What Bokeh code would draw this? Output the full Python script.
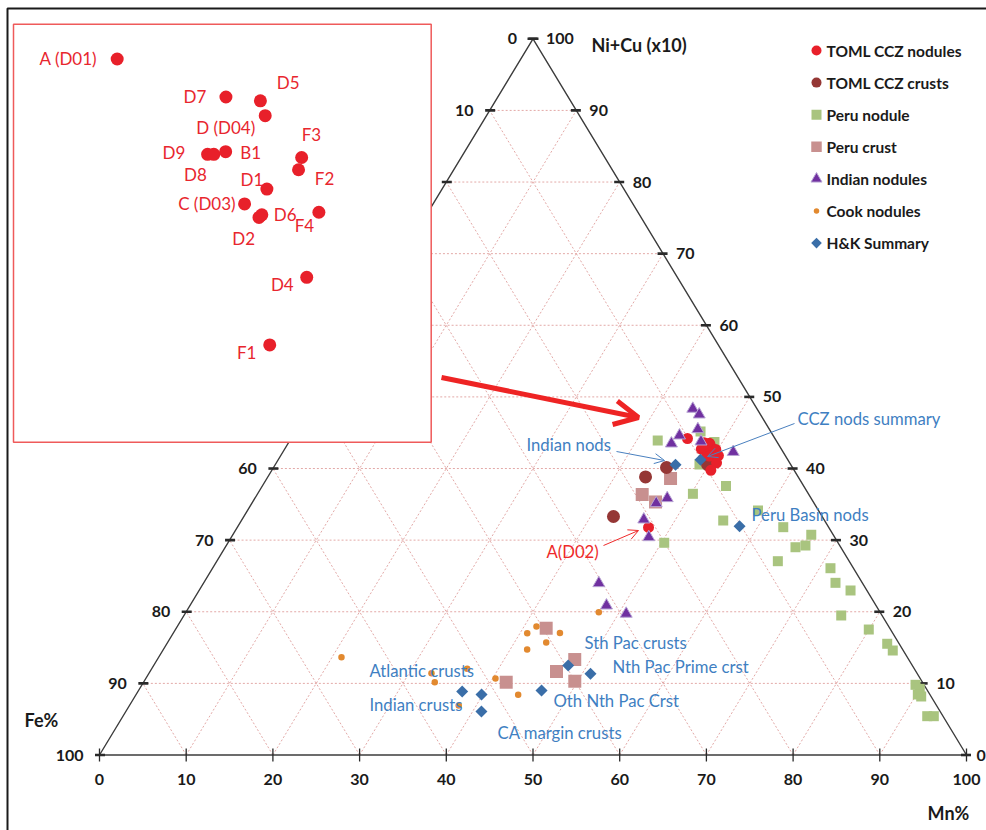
import numpy as np
from bokeh.plotting import figure
from bokeh.models import Range1d, Arrow, OpenHead, ColumnDataSource
from bokeh.core.properties import value
from bokeh.embed import file_html
from bokeh.resources import INLINE

# ---------------- data: Mn %, Ni+Cu (x10) ; Fe % = 100 - Mn - NiCu ----------------
toml_nod_labels = ["A (D01)", "D7", "D5", "D (D04)", "F3", "F2", "D9", "D8", "B1",
                   "D1", "C (D03)", "D6", "D2", "F4", "D4", "F1"]
toml_nod_mn = [45.72, 47.94, 48.58, 48.78, 49.75, 49.79, 48.06, 48.17, 48.36,
               49.38, 49.10, 49.49, 49.46, 50.48, 50.77, 50.64]
toml_nod_nicu = [44.19, 43.60, 43.54, 43.31, 42.66, 42.47, 42.71, 42.71, 42.75,
                 42.17, 41.94, 41.77, 41.73, 41.81, 40.80, 39.75]
toml_d02_mn = [47.44]
toml_d02_nicu = [31.77]

toml_crust_mn = [45.33, 43.57, 42.63, 49.85]
toml_crust_nicu = [40.14, 38.82, 33.30, 40.56]

peru_nod_mn = [42.43, 49.08, 46.74, 48.92, 53.48, 50.21, 55.57, 50.32, 58.88, 62.96,
               66.72, 65.77, 66.80, 64.71, 71.27, 72.87, 75.14, 75.81, 79.97, 83.09,
               84.20, 89.22, 89.99, 90.16, 90.69, 92.76, 93.52]
peru_nod_nicu = [43.91, 43.70, 45.17, 40.56, 37.56, 36.47, 32.74, 29.63, 34.14, 31.81,
                 30.75, 29.01, 29.25, 27.06, 26.08, 24.04, 22.97, 19.48, 17.52, 15.53,
                 14.59, 9.80, 9.24, 8.45, 8.17, 5.42, 5.42]

peru_crust_mn = [46.56, 44.41, 46.47, 42.67, 48.15, 46.88, 49.67, 41.83]
peru_crust_nicu = [38.61, 36.37, 35.33, 17.70, 13.33, 11.66, 10.30, 10.16]

indian_mn = [44.26, 45.40, 46.27, 44.59, 44.22, 47.49, 51.94, 47.55, 46.63, 46.34,
             48.15, 45.60, 48.04, 50.89]
indian_nicu = [48.34, 47.54, 45.49, 44.61, 43.49, 43.77, 42.31, 35.86, 35.16, 32.88,
               30.41, 23.99, 20.87, 19.72]

cook_mn = [47.62, 41.43, 40.83, 44.59, 43.67, 41.96, 40.33, 44.08, 21.08, 32.58,
           36.39, 33.59, 37.98]
cook_nicu = [19.94, 17.94, 17.01, 17.03, 15.71, 14.73, 10.68, 8.42, 13.66, 11.42,
             12.04, 10.16, 6.91]

hk_mn = [46.18, 48.71, 57.85, 47.81, 50.96, 46.48, 37.40, 39.84, 41.02]
hk_nicu = [40.52, 41.22, 31.95, 12.50, 11.34, 9.01, 8.87, 8.45, 6.07]

grid_levels = [10, 20, 30, 40, 50, 60, 70, 80, 90]
tick_levels = [0, 10, 20, 30, 40, 50, 60, 70, 80, 90, 100]

legend_names = ["TOML CCZ nodules", "TOML CCZ crusts", "Peru nodule", "Peru crust",
                "Indian nodules", "Cook nodules", "H&K Summary"]

annotation_texts = ["CCZ nods summary", "Indian nods", "Peru Basin nods", "Sth Pac crusts",
                    "Nth Pac Prime crst", "Atlantic crusts", "Oth Nth Pac Crst",
                    "Indian crusts", "CA margin crusts"]

# ---------------- layout helpers (pixel -> data) ----------------
W, H = 986, 830
def dx(px):
    return (px - 99) / 8.67
def dy(py):
    return (754.5 - py) / 7.162

def cart(mn, nicu):
    mn = np.asarray(mn, float); n = np.asarray(nicu, float)
    return mn + n / 2.0, n

FONT = value("Lato")
RED = "#E8202A"
CRUST = "#953735"
PNOD = "#A9C47F"
PCRUST = "#C8908F"
IND = "#7030A0"
IND_LINE = "#B8A4D4"
COOK = "#E2892F"
HK = "#3A6EA8"
ABLUE = "#3F7FC2"
GRID = "#E3A9A7"
DARK = "#2a2a2a"

p = figure(width=W, height=H, x_range=Range1d(dx(0), dx(W)), y_range=Range1d(dy(H), dy(0)),
           output_backend="svg", toolbar_location=None, min_border=0)
p.axis.visible = False
p.grid.visible = False
p.outline_line_color = None
p.background_fill_color = "white"
p.border_fill_color = "white"

# outer frame (top & left)
p.line([dx(7), dx(7), dx(995)], [dy(840), dy(8), dy(8)], line_color="#1a1a1a", line_width=2)

# ---------------- ternary grid ----------------
gx, gy = [], []
for n in grid_levels:
    gx.append([n / 2, 100 - n / 2]); gy.append([n, n])            # Ni+Cu constant
    gx.append([n, n + (100 - n) / 2]); gy.append([0, 100 - n])     # Mn constant
    gx.append([100 - n, (100 - n) / 2]); gy.append([0, 100 - n])   # Fe constant
p.multi_line(gx, gy, line_color=GRID, line_width=1, line_dash="2 2")

# triangle
p.line([0, 100, 50, 0], [0, 0, 100, 0], line_color="#3c3c3c", line_width=1.4)

# ticks
tx, ty = [], []
for m in tick_levels:
    tx.append([m, m]); ty.append([dy(748), dy(761)])
p.multi_line(tx, ty, line_color=DARK, line_width=1.3)
sx = []; sy = []
for n in tick_levels:
    lx = n / 2; rx = 100 - n / 2
    sx.append([lx - 4.5 / 8.67, lx + 5.5 / 8.67]); sy.append([n, n])
    sx.append([rx - 5.5 / 8.67, rx + 4.5 / 8.67]); sy.append([n, n])
p.multi_line(sx, sy, line_color=DARK, line_width=2.6)

# tick labels
lab_kw = dict(text_font=FONT, text_font_style="bold", text_font_size="16px",
              text_color="#1a1a1a", text_baseline="middle")
p.text(x=[n / 2 - 16 / 8.67 for n in tick_levels], y=tick_levels,
       text=[str(100 - n) for n in tick_levels], text_align="right", **lab_kw)
right_gap = [10 if n == 0 else 13 for n in tick_levels]
p.text(x=[100 - n / 2 + g / 8.67 for n, g in zip(tick_levels, right_gap)], y=tick_levels,
       text=[str(n) for n in tick_levels], text_align="left", **lab_kw)
p.text(x=tick_levels, y=[dy(779)] * len(tick_levels),
       text=[str(m) for m in tick_levels], text_align="center", **lab_kw)

# axis titles
title_kw = dict(lab_kw, text_font_size="18px")
p.text(x=[dx(591)], y=[dy(44)], text=["Ni+Cu (x10)"], text_align="left", **title_kw)
p.text(x=[dx(24)], y=[dy(719)], text=["Fe%"], text_align="left", **title_kw)
p.text(x=[dx(927)], y=[dy(812)], text=["Mn%"], text_align="left", **title_kw)

# ---------------- data series ----------------
x, y = cart(peru_nod_mn, peru_nod_nicu)
p.scatter(x, y, marker="square", size=10, fill_color=PNOD, line_color=None)
x, y = cart(peru_crust_mn, peru_crust_nicu)
p.scatter(x, y, marker="square", size=13, fill_color=PCRUST, line_color=None)
x, y = cart(cook_mn, cook_nicu)
p.scatter(x, y, marker="circle", size=6.5, fill_color=COOK, line_color=None)
x, y = cart(toml_crust_mn, toml_crust_nicu)
p.scatter(x, y, marker="circle", size=13, fill_color=CRUST, line_color=None)
x, y = cart(toml_nod_mn, toml_nod_nicu)
p.scatter(x, y, marker="circle", size=11, fill_color=RED, line_color=None)
x, y = cart(toml_d02_mn, toml_d02_nicu)
p.scatter(x, y, marker="circle", size=11, fill_color=RED, line_color=None)
x, y = cart(indian_mn, indian_nicu)
p.scatter(x, y, marker="triangle", size=12, fill_color=IND, line_color=IND_LINE, line_width=1)
x, y = cart(hk_mn, hk_nicu)
p.scatter(x, y, marker="square", angle=np.pi / 4, size=8.5, fill_color=HK, line_color=None)

# ---------------- annotations ----------------
anno_px = [(797, 418), (526, 444), (751, 514), (584, 642), (612, 666), (369, 670),
           (553, 700), (369, 704), (497, 732)]
p.text(x=[dx(a[0]) for a in anno_px], y=[dy(a[1]) for a in anno_px], text=annotation_texts,
       text_font=FONT, text_font_size="16.7px", text_color=ABLUE, text_baseline="middle",
       text_align="left")
p.text(x=[dx(546)], y=[dy(551)], text=["A(D02)"], text_font=FONT, text_font_size="16.7px",
       text_color="#EE2A2A", text_baseline="middle", text_align="left")

def arrow(x0, y0, x1, y1, color, lw, size):
    p.add_layout(Arrow(end=OpenHead(size=size, line_color=color, line_width=lw),
                       x_start=dx(x0), y_start=dy(y0), x_end=dx(x1), y_end=dy(y1),
                       line_color=color, line_width=lw))

arrow(794, 423, 707, 456, "#4A80BF", 1, 10)
arrow(616, 451, 664, 460, "#4A80BF", 1, 10)
arrow(603, 545, 638, 530, "#EE2A2A", 1, 10)
arrow(441, 377, 638, 417, "#EE2424", 5, 24)

# ---------------- legend ----------------
leg_specs = [("circle", RED, 10, 0), ("circle", CRUST, 10, 0), ("square", PNOD, 10, 0),
             ("square", PCRUST, 10.5, 0), ("triangle", IND, 11, 0), ("circle", COOK, 5.5, 0),
             ("square", HK, 7.5, np.pi / 4)]
leg_kw = dict(lab_kw, text_font_size="15.5px")
for i, (name, spec) in enumerate(zip(legend_names, leg_specs)):
    yy = dy(50 + 32.1 * i)
    mk, col, sz, ang = spec
    p.scatter([dx(816)], [yy], marker=mk, size=sz, angle=ang, fill_color=col,
              line_color=IND_LINE if mk == "triangle" else None)
    p.text(x=[dx(826)], y=[yy], text=[name], text_align="left", **leg_kw)

# ---------------- inset (zoom of TOML CCZ nodules) ----------------
p.quad(left=dx(13), right=dx(430.7), top=dy(23.7), bottom=dy(441.7),
       fill_color="white", line_color="#EF5A5A", line_width=1.5)

IX_A, IY_B, ISX, ISY = 65.98, 44.73, 56.5, 64.4   # inset window: X at px 13, Y at py 23.7
p.extra_x_ranges = {"ix": Range1d(IX_A - 13 / ISX, IX_A + (W - 13) / ISX)}
p.extra_y_ranges = {"iy": Range1d(IY_B - (H - 23.7) / ISY, IY_B + 23.7 / ISY)}

ix, iy = cart(toml_nod_mn, toml_nod_nicu)
p.scatter(ix, iy, marker="circle", size=13, fill_color=RED, line_color=None,
          x_range_name="ix", y_range_name="iy")

label_offsets = [(-20, 0, "right"), (-19.6, 0, "right"), (16.3, -18.6, "left"),
                 (-10, 11.7, "right"), (0, -22.6, "left"), (16.3, 9, "left"),
                 (-22.3, -2, "right"), (-7, 20.3, "right"), (14.7, 0.7, "left"),
                 (-3.6, -10, "right"), (-9, 0, "right"), (12, -0.6, "left"),
                 (-4, 21.3, "right"), (-4.7, 13.7, "right"), (-13, 7.3, "right"),
                 (-13.3, 7.4, "right")]
src = ColumnDataSource(dict(
    x=[ix[i] + label_offsets[i][0] / ISX for i in range(len(ix))],
    y=[iy[i] - label_offsets[i][1] / ISY for i in range(len(iy))],
    t=toml_nod_labels, a=[o[2] for o in label_offsets]))
p.text(x="x", y="y", text="t", text_align="a", source=src, text_font=FONT,
       text_font_size="17px", text_color="#E8262E", text_baseline="middle",
       x_range_name="ix", y_range_name="iy")

open("out.html", "w").write(file_html(p, INLINE))
